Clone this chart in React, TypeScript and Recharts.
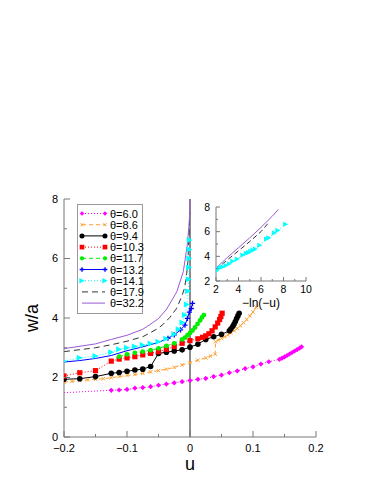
import { LineChart, Line, XAxis, YAxis, ReferenceLine } from 'recharts'

const FONT = '"Liberation Sans", Arial, Helvetica, sans-serif'
const AXIS = '#777'

// main panel ticks
const X_TICKS = [-0.2, -0.15, -0.1, -0.05, 0, 0.05, 0.1, 0.15, 0.2]
const X_MAJOR = [-0.2, -0.1, 0, 0.1, 0.2]
const Y_TICKS = [0, 1, 2, 3, 4, 5, 6, 7, 8]
const Y_MAJOR = [0, 2, 4, 6, 8]

// inset ticks
const IX_TICKS = [2, 3, 4, 5, 6, 7, 8, 9, 10]
const IX_MAJOR = [2, 4, 6, 8, 10]
const IY_TICKS = [2, 3, 4, 5, 6, 7, 8]
const IY_MAJOR = [2, 4, 6, 8]

// theta = 6.0
const T60_U = [-0.2, -0.125, -0.1125, -0.1, -0.0875, -0.075, -0.0625, -0.05, -0.0375, -0.025, -0.0125, 0, 0.0125, 0.025, 0.0375, 0.05, 0.0625, 0.075, 0.0875, 0.1, 0.1125, 0.125, 0.142, 0.146, 0.15, 0.154, 0.158, 0.162, 0.166, 0.17, 0.174, 0.177]
const T60_W = [1.49, 1.57, 1.58, 1.6, 1.64, 1.66, 1.69, 1.74, 1.78, 1.82, 1.86, 1.9, 1.94, 1.97, 2.03, 2.08, 2.16, 2.22, 2.3, 2.36, 2.45, 2.53, 2.61, 2.65, 2.69, 2.74, 2.79, 2.84, 2.89, 2.94, 2.99, 3.03]
// theta = 8.6
const T86_U = [-0.2, -0.1875, -0.175, -0.1625, -0.15, -0.1375, -0.125, -0.1125, -0.1, -0.0875, -0.075, -0.0625, -0.05, -0.0375, -0.025, -0.0125, 0, 0.0125, 0.025, 0.0325, 0.04, 0.0405, 0.045, 0.05, 0.055, 0.06, 0.065, 0.07, 0.075, 0.08, 0.085, 0.09, 0.095, 0.1, 0.105]
const T86_W = [1.84, 1.87, 1.9, 1.92, 1.94, 1.96, 1.99, 2.03, 2.07, 2.1, 2.14, 2.19, 2.23, 2.28, 2.34, 2.42, 2.5, 2.58, 2.66, 2.72, 2.78, 3.2, 3.26, 3.31, 3.37, 3.43, 3.5, 3.57, 3.65, 3.74, 3.84, 3.95, 4.07, 4.2, 4.36]
// theta = 9.4
const T94_U = [-0.2, -0.175, -0.15, -0.125, -0.1125, -0.1, -0.0875, -0.075, -0.0625, -0.05, -0.0375, -0.025, -0.0125, 0, 0.0125, 0.025, 0.0375, 0.05, 0.0625, 0.065, 0.068, 0.07, 0.072, 0.074, 0.076, 0.078]
const T94_W = [1.94, 1.96, 2.03, 2.14, 2.17, 2.21, 2.25, 2.28, 2.37, 2.81, 2.85, 2.89, 2.93, 3.02, 3.12, 3.28, 3.37, 3.45, 3.57, 3.64, 3.72, 3.8, 3.88, 3.98, 4.07, 4.16]
// theta = 10.3
const T103_U = [-0.2, -0.175, -0.15, -0.125, -0.1125, -0.1, -0.0875, -0.075, -0.0625, -0.05, -0.0375, -0.025, -0.0125, 0, 0.0125, 0.02, 0.025, 0.03, 0.035, 0.04, 0.044, 0.047, 0.049, 0.051]
const T103_W = [2.05, 2.16, 2.23, 2.55, 2.62, 2.66, 2.7, 2.76, 2.81, 2.87, 2.95, 3.04, 3.15, 3.24, 3.3, 3.35, 3.4, 3.47, 3.57, 3.7, 3.83, 3.95, 4.05, 4.16]
// theta = 11.7
const T117_U = [-0.1125, -0.1, -0.0875, -0.075, -0.0625, -0.05, -0.0375, -0.025, -0.0125, -0.008, -0.004, 0, 0.004, 0.008, 0.012, 0.016, 0.019, 0.022]
const T117_W = [2.7, 2.78, 2.83, 2.87, 2.92, 2.98, 3.06, 3.15, 3.28, 3.34, 3.42, 3.5, 3.58, 3.68, 3.8, 3.92, 4.02, 4.1]
// theta = 13.2
const T132_U = [-0.2, -0.175, -0.15, -0.125, -0.1, -0.075, -0.05, -0.035, -0.025, -0.015, -0.008, -0.004, -0.001, 0.002, 0.004]
const T132_W = [2.52, 2.57, 2.64, 2.74, 2.9, 3.03, 3.18, 3.32, 3.43, 3.6, 3.76, 3.99, 4.2, 4.32, 4.49]
// theta = 14.1
const T141_U = [-0.2, -0.175, -0.15, -0.125, -0.1125, -0.1, -0.0875, -0.075, -0.0625, -0.05, -0.0375, -0.025, -0.018, -0.012, -0.008, -0.005, -0.003, -0.002, -0.0015, -0.001, -0.0007, -0.0004]
const T141_W = [2.55, 2.66, 2.72, 2.85, 2.95, 3.0, 3.04, 3.09, 3.14, 3.2, 3.3, 3.45, 3.62, 3.85, 4.1, 4.45, 4.9, 5.3, 5.7, 6.0, 6.3, 6.62]
// theta = 17.9
const T179_U = [-0.2, -0.15, -0.125, -0.1, -0.075, -0.0635, -0.05, -0.042, -0.032, -0.021, -0.0127, -0.0087, -0.0052, -0.0033, -0.0016, -0.0003]
const T179_W = [2.87, 3.0, 3.1, 3.22, 3.37, 3.5, 3.66, 3.8, 4.02, 4.33, 4.75, 5.0, 5.5, 5.89, 6.79, 7.57]
// theta = 32.2
const T322_U = [-0.2, -0.15, -0.125, -0.1, -0.075, -0.0635, -0.05, -0.037, -0.021, -0.0106, -0.0043, -0.0011, -0.0003, 0]
const T322_W = [2.97, 3.13, 3.28, 3.42, 3.62, 3.78, 3.98, 4.3, 4.88, 5.56, 6.45, 7.24, 7.9, 8.0]

// inset: w/a against -ln(-u)
const IN141_X = [2.0, 2.1, 2.2, 2.4, 2.6, 2.9, 3.2, 3.5, 3.9, 4.4, 4.7, 4.9, 5.1, 5.3, 5.5, 5.9, 6.5, 6.7, 7.2, 7.5, 8.2]
const IN141_W = [2.8, 2.9, 3.0, 3.08, 3.15, 3.25, 3.4, 3.6, 3.78, 4.1, 4.25, 4.3, 4.4, 4.5, 4.6, 4.9, 5.4, 5.5, 5.9, 6.1, 6.6]
const IN179_X = [2, 3, 4, 5, 6, 6.65]
const IN179_W = [2.95, 3.7, 4.45, 5.2, 6.0, 6.7]
const IN322_X = [2, 3, 4, 5, 6, 7, 7.55]
const IN322_W = [3.05, 3.9, 4.7, 5.5, 6.35, 7.25, 7.8]

type Shape = 'diamond' | 'xcross' | 'circle' | 'square' | 'plus' | 'triRight' | 'none'

interface SeriesDef {
  name: string
  u: number[]
  w: number[]
  color: string
  dash?: string
  width: number
  shape: Shape
  size: number
  minMarkU?: number
}

const SERIES: SeriesDef[] = [
  { name: 'θ=6.0', u: T60_U, w: T60_W, color: '#ff00ff', dash: '1 2', width: 1, shape: 'diamond', size: 2.6, minMarkU: -0.15 },
  { name: 'θ=8.6', u: T86_U, w: T86_W, color: '#ffa030', dash: '4 3', width: 1, shape: 'xcross', size: 1.7 },
  { name: 'θ=9.4', u: T94_U, w: T94_W, color: '#000000', width: 1, shape: 'circle', size: 2.8 },
  { name: 'θ=10.3', u: T103_U, w: T103_W, color: '#ff0000', dash: '1 2', width: 1, shape: 'square', size: 2.6 },
  { name: 'θ=11.7', u: T117_U, w: T117_W, color: '#00ee00', dash: '4 3', width: 1, shape: 'circle', size: 2.4 },
  { name: 'θ=13.2', u: T132_U, w: T132_W, color: '#0000ff', width: 1, shape: 'plus', size: 2.6, minMarkU: -0.04 },
  { name: 'θ=14.1', u: T141_U, w: T141_W, color: '#00ffff', dash: '1 2', width: 1, shape: 'triRight', size: 3 },
  { name: 'θ=17.9', u: T179_U, w: T179_W, color: '#333333', dash: '6 4', width: 1, shape: 'none', size: 0 },
  { name: 'θ=32.2', u: T322_U, w: T322_W, color: '#9a5ad6', width: 1, shape: 'none', size: 0 },
]

const INSET: SeriesDef[] = [
  { name: 'θ=14.1', u: IN141_X, w: IN141_W, color: '#00ffff', dash: '1 2', width: 1, shape: 'triRight', size: 2.6 },
  { name: 'θ=17.9', u: IN179_X, w: IN179_W, color: '#333333', dash: '5 3', width: 1, shape: 'none', size: 0 },
  { name: 'θ=32.2', u: IN322_X, w: IN322_W, color: '#9a5ad6', width: 1, shape: 'none', size: 0 },
]

function Marker({ shape, cx, cy, color, size }: { shape: Shape; cx: number; cy: number; color: string; size: number }) {
  const s = size
  switch (shape) {
    case 'circle':
      return <circle cx={cx} cy={cy} r={s} fill={color} />
    case 'square':
      return <rect x={cx - s} y={cy - s} width={2 * s} height={2 * s} fill={color} />
    case 'diamond':
      return <polygon points={`${cx},${cy - s} ${cx + s},${cy} ${cx},${cy + s} ${cx - s},${cy}`} fill={color} />
    case 'xcross':
      return <path d={`M${cx - s},${cy - s}L${cx + s},${cy + s}M${cx - s},${cy + s}L${cx + s},${cy - s}`} stroke={color} strokeWidth={1} />
    case 'plus':
      return <path d={`M${cx - s},${cy}H${cx + s}M${cx},${cy - s}V${cy + s}`} stroke={color} strokeWidth={1.3} />
    case 'triRight':
      return <polygon points={`${cx + s},${cy} ${cx - s},${cy - s} ${cx - s},${cy + s}`} fill={color} />
    default:
      return <g />
  }
}

const toPoints = (s: SeriesDef) => s.u.map((u, i) => ({ u, w: s.w[i] }))

function dotFor(s: SeriesDef) {
  if (s.shape === 'none') return false
  return (p: any) => {
    const hide = s.minMarkU !== undefined && p.payload.u < s.minMarkU
    if (hide || p.cx == null) return <g key={p.index} />
    return <Marker key={p.index} shape={s.shape} cx={p.cx} cy={p.cy} color={s.color} size={s.size} />
  }
}

type Side = 'bottom' | 'top' | 'left' | 'right'

function fmtU(v: number) {
  if (v === 0) return '0'
  return (v < 0 ? '\u2212' : '') + String(Math.abs(v))
}

function tickMaker(side: Side, major: number[], len: number, fmt: ((v: number) => string) | null, fontSize = 11, gap = 4) {
  return (p: any) => {
    const v = p.payload.value
    const isMajor = major.some((m) => Math.abs(m - v) < 1e-9)
    const l = isMajor ? len : len / 2
    const { x, y } = p
    let d = ''
    if (side === 'bottom') d = `M${x},${y}v${-l}`
    if (side === 'top') d = `M${x},${y}v${l}`
    if (side === 'left') d = `M${x},${y}h${l}`
    if (side === 'right') d = `M${x},${y}h${-l}`
    let label = null
    if (fmt && isMajor) {
      label =
        side === 'bottom' ? (
          <text x={x} y={y + fontSize + gap} textAnchor="middle" fontSize={fontSize} fontFamily={FONT} fill="#000">
            {fmt(v)}
          </text>
        ) : (
          <text x={x - 6} y={y + fontSize * 0.36} textAnchor="end" fontSize={fontSize} fontFamily={FONT} fill="#000">
            {fmt(v)}
          </text>
        )
    }
    return (
      <g>
        <path d={d} stroke={AXIS} strokeWidth={1} />
        {label}
      </g>
    )
  }
}

function LegendBox() {
  return (
    <svg width={68} height={112} style={{ position: 'absolute', left: 77, top: 204 }}>
      <rect x={0.5} y={0.5} width={65} height={109} fill="#fff" stroke="#999" strokeWidth={1} />
      {SERIES.map((s, i) => {
        const y = 9.5 + i * 11.2
        return (
          <g key={s.name}>
            <line x1={5} x2={28} y1={y} y2={y} stroke={s.color} strokeWidth={s.width} strokeDasharray={s.dash} />
            <Marker shape={s.shape} cx={5} cy={y} color={s.color} size={s.size * 0.9} />
            <Marker shape={s.shape} cx={28} cy={y} color={s.color} size={s.size * 0.9} />
            <text x={33} y={y + 4} fontSize={11} fontFamily={FONT} fill="#000">
              {s.name}
            </text>
          </g>
        )
      })}
    </svg>
  )
}

export default function App() {
  return (
    <div style={{ position: 'absolute', left: 0, top: 0, width: 382, height: 494, background: '#fff' }}>
      <LineChart width={382} height={494} margin={{ top: 199, right: 66, bottom: 0, left: 0 }}>
        <XAxis
          xAxisId="b"
          dataKey="u"
          type="number"
          domain={[-0.2, 0.2]}
          allowDataOverflow
          ticks={X_TICKS}
          interval={0}
          height={57}
          stroke={AXIS}
          tickLine={false}
          tickSize={0}
          tickMargin={0}
          tick={tickMaker('bottom', X_MAJOR, 6, fmtU)}
          label={{ value: 'u', position: 'insideBottom', offset: 24, fontSize: 18, fill: '#000', fontFamily: FONT }}
        />
        <XAxis
          xAxisId="t"
          orientation="top"
          type="number"
          domain={[-0.2, 0.2]}
          allowDataOverflow
          ticks={X_TICKS}
          interval={0}
          height={0}
          stroke={AXIS}
          tickLine={false}
          tickSize={0}
          tickMargin={0}
          tick={tickMaker('top', X_MAJOR, 6, null)}
        />
        <YAxis
          yAxisId="l"
          type="number"
          domain={[0, 8]}
          allowDataOverflow
          ticks={Y_TICKS}
          interval={0}
          width={64}
          stroke={AXIS}
          tickLine={false}
          tickSize={0}
          tickMargin={0}
          tick={tickMaker('left', Y_MAJOR, 6, (v) => String(v))}
          label={{ value: 'w/a', angle: -90, position: 'insideLeft', offset: 32, fontSize: 18, fill: '#000', fontFamily: FONT, style: { textAnchor: 'middle' } }}
        />
        <YAxis
          yAxisId="r"
          orientation="right"
          type="number"
          domain={[0, 8]}
          allowDataOverflow
          ticks={Y_TICKS}
          interval={0}
          width={0}
          stroke={AXIS}
          tickLine={false}
          tickSize={0}
          tickMargin={0}
          tick={tickMaker('right', Y_MAJOR, 6, null)}
        />
        <ReferenceLine x={0} xAxisId="b" yAxisId="l" stroke="#666" strokeWidth={1.5} />
        {SERIES.map((s) => (
          <Line
            key={s.name}
            xAxisId="b"
            yAxisId="l"
            data={toPoints(s)}
            dataKey="w"
            type="linear"
            stroke={s.color}
            strokeWidth={s.width}
            strokeDasharray={s.dash}
            dot={dotFor(s)}
            activeDot={false}
            isAnimationActive={false}
          />
        ))}
      </LineChart>

      <div style={{ position: 'absolute', left: 180, top: 195 }}>
        <LineChart width={144} height={118} margin={{ top: 12, right: 18, bottom: 0, left: 0 }}>
          <XAxis
            xAxisId="b"
            dataKey="u"
            type="number"
            domain={[2, 10]}
            allowDataOverflow
            ticks={IX_TICKS}
            interval={0}
            height={32}
            stroke={AXIS}
            tickLine={false}
            tickSize={0}
            tickMargin={0}
            tick={tickMaker('bottom', IX_MAJOR, 4, (v) => String(v), 10.5, 1.5)}
            label={{ value: '\u2212ln(\u2212u)', position: 'insideBottom', offset: 6, fontSize: 12, fill: '#000', fontFamily: FONT }}
          />
          <XAxis
            xAxisId="t"
            orientation="top"
            type="number"
            domain={[2, 10]}
            allowDataOverflow
            ticks={IX_TICKS}
            interval={0}
            height={0}
            stroke={AXIS}
            tickLine={false}
            tickSize={0}
            tickMargin={0}
            tick={tickMaker('top', IX_MAJOR, 4, null)}
          />
          <YAxis
            yAxisId="l"
            type="number"
            domain={[2, 8]}
            allowDataOverflow
            ticks={IY_TICKS}
            interval={0}
            width={36}
            stroke={AXIS}
            tickLine={false}
            tickSize={0}
            tickMargin={0}
            tick={tickMaker('left', IY_MAJOR, 4, (v) => String(v), 10.5)}
          />
          <YAxis
            yAxisId="r"
            orientation="right"
            type="number"
            domain={[2, 8]}
            allowDataOverflow
            ticks={IY_TICKS}
            interval={0}
            width={0}
            stroke={AXIS}
            tickLine={false}
            tickSize={0}
            tickMargin={0}
            tick={tickMaker('right', IY_MAJOR, 4, null)}
          />
          {INSET.map((s) => (
            <Line
              key={s.name}
              xAxisId="b"
              yAxisId="l"
              data={toPoints(s)}
              dataKey="w"
              type="linear"
              stroke={s.color}
              strokeWidth={s.width}
              strokeDasharray={s.dash}
              dot={dotFor(s)}
              activeDot={false}
              isAnimationActive={false}
            />
          ))}
        </LineChart>
      </div>

      <LegendBox />
    </div>
  )
}
